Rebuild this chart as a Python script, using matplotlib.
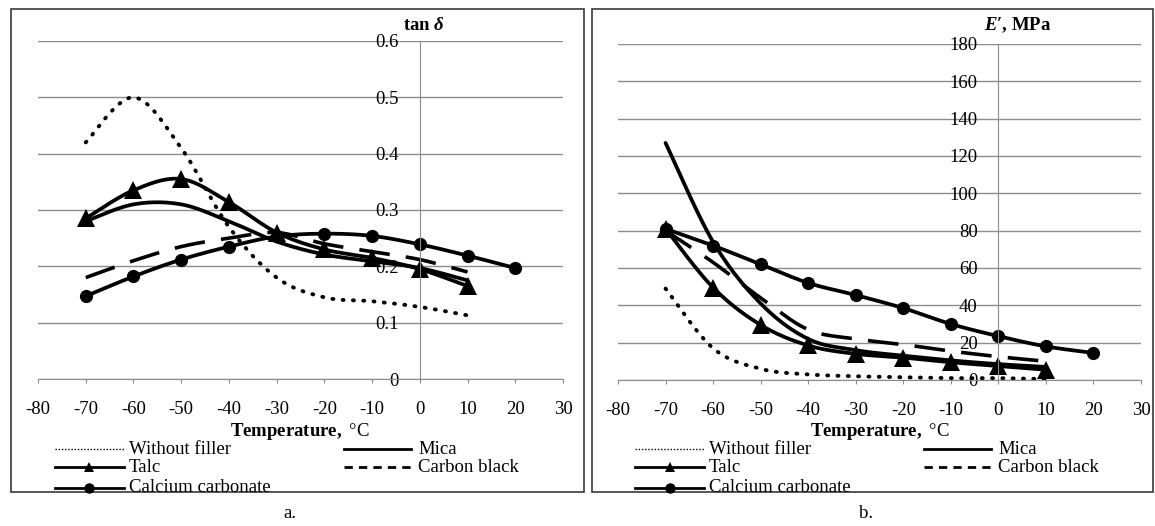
import numpy as np
import matplotlib.pyplot as plt
from matplotlib.lines import Line2D
from matplotlib.patches import Rectangle
from matplotlib.transforms import Bbox

plt.rcParams['font.family'] = ['Liberation Serif', 'DejaVu Serif']
plt.rcParams['mathtext.fontset'] = 'custom'
plt.rcParams['mathtext.rm'] = 'Liberation Serif:bold'
plt.rcParams['mathtext.it'] = 'Liberation Serif:italic:bold'

# ---- data ----
temps = [-70, -60, -50, -40, -30, -20, -10, 0, 10]
temps_caco3 = [-70, -60, -50, -40, -30, -20, -10, 0, 10, 20]

# a. loss factor tan(delta)
tan_without = [0.42, 0.50, 0.41, 0.27, 0.18, 0.145, 0.138, 0.128, 0.113]
tan_mica = [0.28, 0.31, 0.31, 0.28, 0.244, 0.221, 0.209, 0.197, 0.175]
tan_talc = [0.285, 0.335, 0.355, 0.314, 0.26, 0.23, 0.215, 0.195, 0.165]
tan_black = [0.18, 0.21, 0.235, 0.25, 0.26, 0.24, 0.226, 0.212, 0.19]
tan_caco3 = [0.147, 0.182, 0.212, 0.235, 0.253, 0.258, 0.254, 0.239, 0.219, 0.197]

# b. storage modulus E', MPa
e_without = [49, 17, 6, 3, 2, 1.5, 1, 1, 0.5]
e_mica = [127, 74, 41, 22, 16, 13, 10.5, 8.5, 7]
e_talc = [81, 49.5, 29.5, 18.5, 14, 12, 9.5, 7.5, 5.5]
e_black = [80, 63, 44, 27, 22, 19, 15.5, 12.5, 10]
e_caco3 = [81, 72, 62, 52, 45.5, 38.5, 30, 23.5, 18, 14.5]

x_ticks = list(range(-80, 31, 10))
tan_ticks = [0, 0.1, 0.2, 0.3, 0.4, 0.5, 0.6]
tan_ticklabels = ['0', '0.1', '0.2', '0.3', '0.4', '0.5', '0.6']
e_ticks = list(range(0, 181, 20))

legend_names = ['Without filler', 'Mica', 'Talc', 'Carbon black', 'Calcium carbonate']

W, H = 1155, 526
GRID = '#8c8c8c'
FS = 13.5


def fx(px):
    return px / W


def fy(py):
    return 1 - py / H


def smooth(x, y, n=24):
    # excel-like bezier smoothing through the points
    p = np.column_stack([x, y]).astype(float)
    q = np.vstack([p[:1], p, p[-1:]])
    t = np.linspace(0, 1, n)[:, None]
    pts = []
    for i in range(len(p) - 1):
        p0, p3 = p[i], p[i + 1]
        c1 = p0 + (q[i + 2] - q[i]) / 6
        c2 = p3 - (q[i + 3] - q[i + 1]) / 6
        seg = ((1 - t) ** 3) * p0 + 3 * ((1 - t) ** 2) * t * c1 \
            + 3 * (1 - t) * t ** 2 * c2 + t ** 3 * p3
        pts.append(seg if i == 0 else seg[1:])
    pts = np.vstack(pts)
    return pts[:, 0], pts[:, 1]


dot_style = dict(color='black', lw=2.8, linestyle=(0, (0.25, 2.4)),
                 dash_capstyle='round')
solid_style = dict(color='black', lw=2.7, solid_capstyle='round')
dash_style = dict(color='black', lw=2.6, linestyle=(0, (8.5, 4.5)),
                  dash_capstyle='butt')


def draw_series(ax, xs, ys, style, marker=None, ms=0):
    sx, sy = smooth(xs, ys)
    ax.plot(sx, sy, **style)
    if marker:
        ax.plot(xs, ys, linestyle='none', marker=marker, ms=ms,
                color='black', mew=0)


def style_axes(ax, yticks, ylabels, ymax):
    ax.set_xlim(-80, 30)
    ax.set_ylim(0, ymax)
    ax.set_xticks(x_ticks)
    ax.set_xticklabels([str(v) for v in x_ticks])
    ax.set_yticks(yticks)
    ax.set_yticklabels(ylabels)
    for s in ['top', 'right']:
        ax.spines[s].set_visible(False)
    ax.spines['left'].set_position(('data', 0))
    ax.spines['left'].set_color(GRID)
    ax.spines['bottom'].set_color(GRID)
    ax.yaxis.grid(True, color=GRID, lw=1)
    ax.set_axisbelow(True)
    ax.tick_params(axis='y', length=0, pad=15, labelsize=FS)
    ax.tick_params(axis='x', direction='out', length=3, color=GRID,
                   pad=13, labelsize=FS)
    ax.patch.set_alpha(0)


fig = plt.figure(figsize=(W / 100, H / 100), dpi=100)

ax1 = fig.add_axes([fx(38), fy(379), (563 - 38) / W, (379 - 41) / H])
ax2 = fig.add_axes([fx(618), fy(380), (1141 - 618) / W, (380 - 44) / H])

style_axes(ax1, tan_ticks, tan_ticklabels, 0.6)
style_axes(ax2, e_ticks, [str(v) for v in e_ticks], 180)

draw_series(ax1, temps, tan_without, dot_style)
draw_series(ax1, temps, tan_mica, solid_style)
draw_series(ax1, temps, tan_talc, solid_style, '^', 13)
draw_series(ax1, temps, tan_black, dash_style)
draw_series(ax1, temps_caco3, tan_caco3, solid_style, 'o', 9.5)

draw_series(ax2, temps, e_without, dot_style)
draw_series(ax2, temps, e_mica, solid_style)
draw_series(ax2, temps, e_talc, solid_style, '^', 13)
draw_series(ax2, temps, e_black, dash_style)
draw_series(ax2, temps_caco3, e_caco3, solid_style, 'o', 9.5)

# frames around the two panels
frame_bottom = 492
for x0, x1 in [(11, 584), (592, 1153)]:
    fig.add_artist(Rectangle((fx(x0), fy(frame_bottom)), (x1 - x0) / W,
                             (frame_bottom - 9) / H, transform=fig.transFigure,
                             fill=False, ec='#3a3a3a', lw=1.2))

clip = Bbox.from_extents(0, H - frame_bottom, W, H)

for off, ylab, ycx, cap, capx in [(0, r'tan $\mathit{δ}$', 424, 'a.', 290),
                                  (580, r"$\mathit{E}$′, MPa", 1018, 'b.', 866)]:
    fig.text(fx(ycx), fy(25), ylab, ha='center', va='center', fontsize=FS,
             fontweight='bold')
    fig.text(fx(300 + off), fy(431), r'$\mathrm{Temperature,}\ $°C',
             ha='center', va='center', fontsize=FS)
    fig.text(fx(capx), fy(513), cap, ha='center', va='center', fontsize=FS)

    # legend, laid out like the excel one (two columns)
    rows = [449, 467, 488]
    entries = [
        (legend_names[0], 55, 124, 129, rows[0],
         dict(lw=1, linestyle=(0, (1, 1.3))), None),
        (legend_names[1], 344, 411, 418, rows[0], dict(lw=2), None),
        (legend_names[2], 55, 124, 129, rows[1], dict(lw=2), '^'),
        (legend_names[3], 344, 411, 418, rows[1],
         dict(lw=2, linestyle=(0, (3, 2.2))), None),
        (legend_names[4], 55, 124, 129, rows[2], dict(lw=2), 'o'),
    ]
    for name, hx0, hx1, tx, ry, lst, mk in entries:
        fig.add_artist(Line2D([fx(hx0 + off), fx(hx1 + off)], [fy(ry), fy(ry)],
                              transform=fig.transFigure, color='black', **lst))
        if mk:
            fig.add_artist(Line2D([fx((hx0 + hx1) / 2 + off)], [fy(ry)],
                                  transform=fig.transFigure, color='black',
                                  marker=mk, ms=7 if mk == '^' else 7.5,
                                  mew=0, linestyle='none'))
        t = fig.text(fx(tx + off), fy(ry), name, ha='left', va='center',
                     fontsize=FS)
        t.set_clip_box(clip)
        t.set_clip_on(True)

fig.savefig('out.png', dpi=100)
